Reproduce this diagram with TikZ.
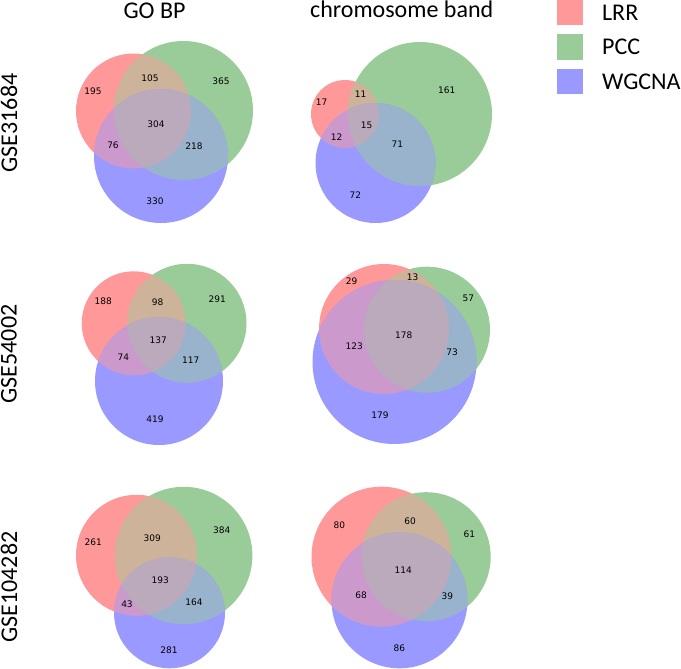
\documentclass[tikz,border=0pt]{standalone}
\usepackage{fontspec}
\setmainfont{Carlito}
\newfontfamily\numfont{DejaVu Sans}
\usetikzlibrary{positioning}
\definecolor{lrr}{RGB}{255,153,153}
\definecolor{pcc}{RGB}{153,204,153}
\definecolor{wgc}{RGB}{153,153,255}
\definecolor{lrrpcc}{RGB}{204,179,153}
\definecolor{lrrwgc}{RGB}{204,153,204}
\definecolor{pccwgc}{RGB}{153,179,204}
\definecolor{allthree}{RGB}{187,170,187}
\tikzset{
  num/.style={font=\numfont\fontsize{9}{11}\selectfont, inner sep=0pt},
  hdr/.style={font=\fontsize{24}{28}\selectfont, inner sep=0pt},
  keybox/.style={minimum size=25.5pt, inner sep=0pt},
  keytxt/.style={font=\fontsize{24}{28}\selectfont, inner sep=0pt}}
% three circles: red centre/radius, green centre/radius, blue centre/radius
\newcommand{\venntri}[6]{%
  \fill[lrr] #1 circle[radius=#2pt];
  \fill[pcc] #3 circle[radius=#4pt];
  \fill[wgc] #5 circle[radius=#6pt];
  \begin{scope}\clip #1 circle[radius=#2pt]; \fill[lrrpcc] #3 circle[radius=#4pt];\end{scope}
  \begin{scope}\clip #1 circle[radius=#2pt]; \fill[lrrwgc] #5 circle[radius=#6pt];\end{scope}
  \begin{scope}\clip #3 circle[radius=#4pt]; \fill[pccwgc] #5 circle[radius=#6pt];\end{scope}
  \begin{scope}\clip #1 circle[radius=#2pt]; \clip #3 circle[radius=#4pt]; \fill[allthree] #5 circle[radius=#6pt];\end{scope}}

\begin{document}
\begin{tikzpicture}[x=1pt, y=-1pt]
\useasboundingbox (0,0) rectangle (681,669);
% column and row headings
\node[hdr, anchor=base] (tbp) at (154.5,18.3) {GO BP};
\node[hdr, anchor=base] (tcb) at (401.7,18) {chromosome band};
\node[hdr, rotate=90] (r1) at (9,123) {GSE31684};
\node[hdr, rotate=90] (r2) at (9,354) {GSE54002};
\node[hdr, rotate=90] (r3) at (9,587) {GSE104282};
% legend
\node[keybox, fill=lrr] (klrr) at (570,12.5) {};
\node[keybox, fill=pcc] (kpcc) at (570,46.8) {};
\node[keybox, fill=wgc] (kwgc) at (570,81.7) {};
\node[keytxt, right=19pt of klrr] (tlrr) {LRR};
\node[keytxt, right=19pt of kpcc] (tpcc) {PCC};
\node[keytxt, right=19pt of kwgc] (twgc) {WGCNA};
% GSE31684
\venntri{(133.5,111)}{57.5}{(183.5,110.5)}{69.5}{(161,156)}{67}
\node[num] (bp1r) at (93,91) {195};
\node[num] (bp1rg) at (150,78) {105};
\node[num] (bp1g) at (221,81) {365};
\node[num] (bp1rgb) at (156,124) {304};
\node[num] (bp1rb) at (113,145) {76};
\node[num] (bp1gb) at (194,146) {218};
\node[num] (bp1b) at (155,201) {330};
\venntri{(345,114)}{34}{(420,114)}{72}{(375.5,163)}{60}
\node[num] (cb1r) at (321.7,102) {17};
\node[num] (cb1rg) at (360.7,94) {11};
\node[num] (cb1g) at (446.7,90) {161};
\node[num] (cb1rgb) at (366.7,125.7) {15};
\node[num] (cb1rb) at (336.7,136.7) {12};
\node[num] (cb1gb) at (397.3,144) {71};
\node[num] (cb1b) at (355.3,195) {72};
% GSE54002
\venntri{(133.7,323.3)}{52}{(187,323.3)}{59.5}{(159,381)}{64}
\node[num] (bp2r) at (103.3,301.7) {188};
\node[num] (bp2rg) at (157.7,302) {98};
\node[num] (bp2g) at (217.3,299.3) {291};
\node[num] (bp2rgb) at (158.3,340.7) {137};
\node[num] (bp2rb) at (123.3,357.3) {74};
\node[num] (bp2gb) at (190.7,360) {117};
\node[num] (bp2b) at (155,419) {419};
\venntri{(384,329)}{65}{(427,329.7)}{63}{(394.5,362)}{82}
\node[num] (cb2r) at (351.7,281) {29};
\node[num] (cb2rg) at (412.7,277.3) {13};
\node[num] (cb2g) at (468.3,298.3) {57};
\node[num] (cb2rgb) at (403.7,335) {178};
\node[num] (cb2rb) at (354.3,346.7) {123};
\node[num] (cb2gb) at (452,352) {73};
\node[num] (cb2b) at (380,415) {179};
% GSE104282
\venntri{(136.5,555.3)}{60.5}{(183.7,555.5)}{68.7}{(169.5,612.8)}{55.5}
\node[num] (bp3r) at (93.3,542.7) {261};
\node[num] (bp3rg) at (152.3,538.3) {309};
\node[num] (bp3g) at (221.7,530) {384};
\node[num] (bp3rgb) at (160.3,580) {193};
\node[num] (bp3rb) at (127,604.7) {43};
\node[num] (bp3gb) at (194,602) {164};
\node[num] (bp3b) at (169,650.7) {281};
\venntri{(381.5,556.7)}{70}{(426.2,556.7)}{64.5}{(399.5,600.3)}{68}
\node[num] (cb3r) at (339.3,525.7) {80};
\node[num] (cb3rg) at (410,521) {60};
\node[num] (cb3g) at (469.3,534) {61};
\node[num] (cb3rgb) at (403.3,570.7) {114};
\node[num] (cb3rb) at (361,595.3) {68};
\node[num] (cb3gb) at (447.3,596.7) {39};
\node[num] (cb3b) at (399.3,648) {86};
\end{tikzpicture}
\end{document}
